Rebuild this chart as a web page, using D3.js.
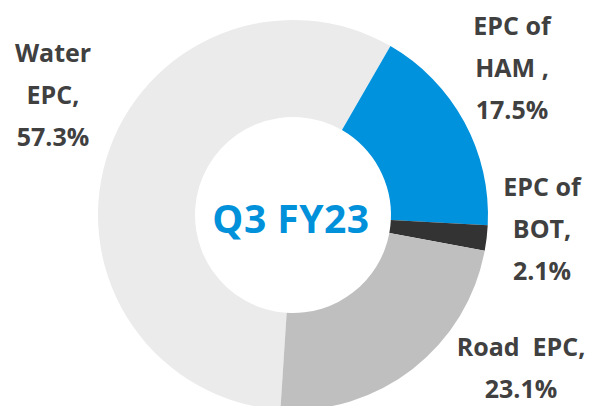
<!DOCTYPE html>
<html>
<head>
<meta charset="utf-8">
<script src="https://cdn.jsdelivr.net/npm/d3@7"></script>
<style>
  html, body { margin: 0; padding: 0; background: #ffffff; }
  svg { display: block; }
  text { font-family: "Open Sans", "Noto Sans", sans-serif; font-weight: 700; }
</style>
</head>
<body>
<svg id="chart" width="598" height="406"></svg>
<script>
// ---- data ----
const categories = ["Water EPC", "EPC of HAM", "EPC of BOT", "Road EPC"];
const shares = [57.3, 17.5, 2.1, 23.1];
const labelLines = [
  ["Water", "EPC,", "57.3%"],
  ["EPC of", "HAM ,", "17.5%"],
  ["EPC of", "BOT,", "2.1%"],
  ["Road\u00a0\u00a0EPC,", "23.1%"]
];
const centerTitle = "Q3 FY23";

// ---- styles / layout ----
const colors = ["#ebebeb", "#0092dd", "#333333", "#bfbfbf"];
const W = 598, H = 406;
const cx = 293, cy = 215, outerR = 195, innerR = 98;
const startDeg = -176.3;
const labelPos = [
  { x: 53, y: 62 },
  { x: 512, y: 35 },
  { x: 542, y: 196 },
  { x: 521, y: 356 }
];
const lineGap = 42;

const svg = d3.select("#chart");
const g = svg.append("g").attr("transform", `translate(${cx},${cy})`);

const data = categories.map((c, i) => ({ cat: c, value: shares[i], i }));
const pie = d3.pie()
  .value(d => d.value)
  .sort(null)
  .startAngle(startDeg * Math.PI / 180)
  .endAngle(startDeg * Math.PI / 180 + 2 * Math.PI);
const arc = d3.arc().innerRadius(innerR).outerRadius(outerR);

g.selectAll("path.slice")
  .data(pie(data))
  .join("path")
  .attr("class", "slice")
  .attr("d", arc)
  .attr("fill", d => colors[d.data.i]);

g.append("text")
  .attr("x", -2)
  .attr("y", 18)
  .attr("text-anchor", "middle")
  .attr("fill", "#0091da")
  .attr("font-size", 39)
  .attr("letter-spacing", 0.5)
  .text(centerTitle);

const labels = svg.append("g");
labelLines.forEach((lines, i) => {
  const t = labels.append("text")
    .attr("text-anchor", "middle")
    .attr("fill", "#404040")
    .attr("font-size", 25);
  lines.forEach((ln, j) => {
    t.append("tspan")
      .attr("x", labelPos[i].x)
      .attr("y", labelPos[i].y + j * lineGap)
      .text(ln);
  });
});
</script>
</body>
</html>
